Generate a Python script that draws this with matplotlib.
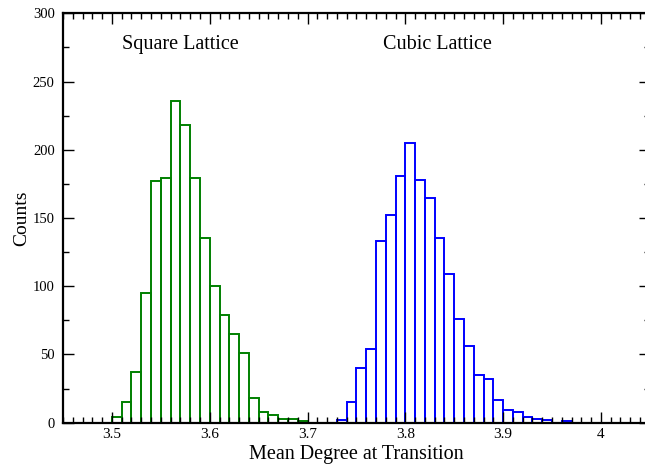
import numpy as np
import matplotlib
matplotlib.use('Agg')
from matplotlib import pyplot as plt
from matplotlib.ticker import MultipleLocator

plt.rcParams['font.family'] = ['Liberation Serif', 'DejaVu Serif']

# histogram data, bin width 0.01
bin_width = 0.01
square_left = [3.50, 3.51, 3.52, 3.53, 3.54, 3.55, 3.56, 3.57, 3.58, 3.59,
               3.60, 3.61, 3.62, 3.63, 3.64, 3.65, 3.66, 3.67, 3.68, 3.69]
square_counts = [4, 15, 37, 95, 177, 179, 236, 218, 179, 135,
                 100, 79, 65, 51, 18, 8, 6, 3, 3, 1]

cubic_left = [3.73, 3.74, 3.75, 3.76, 3.77, 3.78, 3.79, 3.80, 3.81, 3.82,
              3.83, 3.84, 3.85, 3.86, 3.87, 3.88, 3.89, 3.90, 3.91, 3.92,
              3.93, 3.94, 3.95, 3.96]
cubic_counts = [2, 15, 40, 54, 133, 152, 181, 205, 178, 165,
                135, 109, 76, 56, 35, 32, 17, 9, 8, 4,
                3, 2, 0, 1]

x_ticks = [3.5, 3.6, 3.7, 3.8, 3.9, 4.0]
x_ticklabels = ['3.5', '3.6', '3.7', '3.8', '3.9', '4']

fig = plt.figure(figsize=(6.45, 4.69), dpi=100)
ax = fig.add_axes([0.0977, 0.0987, 0.9098, 0.8729])

ax.bar(square_left, square_counts, width=bin_width, align='edge',
       fill=False, edgecolor='#008000', linewidth=1.4)
ax.bar(cubic_left, cubic_counts, width=bin_width, align='edge',
       fill=False, edgecolor='#0000ff', linewidth=1.4)

ax.set_xlim(3.45, 4.05)
ax.set_ylim(0, 300)

ax.set_xticks(x_ticks)
ax.set_xticklabels(x_ticklabels)
ax.xaxis.set_minor_locator(MultipleLocator(0.01))
ax.yaxis.set_major_locator(MultipleLocator(50))
ax.yaxis.set_minor_locator(MultipleLocator(25))

ax.tick_params(which='both', direction='in', top=True, right=True, width=1.0)
ax.tick_params(which='major', length=8)
ax.tick_params(which='minor', length=4)
ax.tick_params(axis='y', labelsize=10.5, pad=6)
ax.tick_params(axis='x', labelsize=11, pad=4)

for s in ax.spines.values():
    s.set_linewidth(1.6)

ax.text(3.57, 277, 'Square Lattice', ha='center', va='center', fontsize=14.5)
ax.text(3.833, 277, 'Cubic Lattice', ha='center', va='center', fontsize=14.5)

ax.set_xlabel('Mean Degree at Transition', fontsize=14.5, labelpad=3)
ax.set_ylabel('Counts', fontsize=14, labelpad=2)

fig.savefig('out.png', dpi=100)
